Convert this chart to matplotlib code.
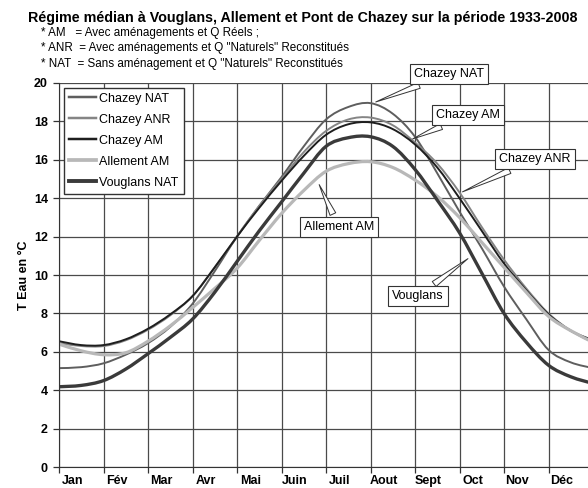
import matplotlib
matplotlib.use("Agg")
import matplotlib.pyplot as plt
from matplotlib.path import Path
from matplotlib.patches import PathPatch
from matplotlib.lines import Line2D
import numpy as np

plt.rcParams['font.family'] = ['Liberation Sans', 'DejaVu Sans']

# ---- data (half-month steps, in months from 1 Jan) ----
months_pos = [i * 0.5 for i in range(25)]
month_labels = ["Jan", "Fév", "Mar", "Avr", "Mai", "Juin", "Juil", "Aout", "Sept", "Oct", "Nov", "Déc"]

chazey_nat = [5.15, 5.2, 5.4, 5.85, 6.45, 7.3, 8.5, 10.2, 12.0, 13.6, 15.1, 16.7, 18.1,
              18.75, 18.95, 18.4, 17.2, 15.3, 13.3, 11.4, 9.4, 7.7, 6.1, 5.45, 5.15]
chazey_anr = [6.45, 6.3, 6.3, 6.6, 7.15, 7.9, 8.9, 10.4, 12.0, 13.6, 15.0, 16.4, 17.5,
              18.1, 18.2, 17.8, 16.9, 15.8, 14.3, 12.5, 10.8, 9.3, 8.0, 7.1, 6.5]
chazey_am = [6.55, 6.35, 6.35, 6.65, 7.2, 7.95, 8.9, 10.4, 12.0, 13.5, 14.9, 16.2, 17.3,
             17.85, 17.95, 17.6, 16.8, 15.6, 14.0, 12.3, 10.6, 9.2, 7.95, 7.1, 6.6]
allement_am = [6.4, 6.05, 5.85, 5.95, 6.55, 7.35, 8.3, 9.3, 10.35, 11.8, 13.2, 14.4, 15.4,
               15.8, 15.9, 15.6, 14.95, 14.1, 13.0, 11.7, 10.4, 9.1, 7.85, 7.1, 6.5]
vouglans_nat = [4.18, 4.25, 4.5, 5.1, 5.9, 6.75, 7.7, 9.1, 10.7, 12.3, 13.8, 15.3, 16.7,
                17.15, 17.2, 16.7, 15.5, 13.9, 12.2, 10.1, 8.0, 6.5, 5.3, 4.7, 4.35]

series = [
    ("Chazey NAT", chazey_nat, "#5e5e5e", 1.4),
    ("Chazey ANR", chazey_anr, "#858585", 1.4),
    ("Chazey AM", chazey_am, "#1e1e1e", 1.4),
    ("Allement AM", allement_am, "#b8b8b8", 2.3),
    ("Vouglans NAT", vouglans_nat, "#3a3a3a", 2.4),
]

callouts = [
    ("Chazey NAT", (8.76, 20.47), (7.06, 18.96)),
    ("Chazey AM", (9.19, 18.33), (7.89, 17.03)),
    ("Chazey ANR", (10.7, 16.04), (9.01, 14.27)),
    ("Allement AM", (6.29, 12.5), (5.82, 14.84)),
    ("Vouglans", (8.07, 8.9), (9.24, 10.94)),
]


def smooth_path(x, y):
    """Excel-like smoothed line: cubic Bezier through the data points."""
    x = np.asarray(x, float)
    y = np.asarray(y, float)
    n = len(x)
    verts = [(x[0], y[0])]
    codes = [Path.MOVETO]
    for i in range(n - 1):
        p0 = (x[i - 1], y[i - 1]) if i > 0 else (x[i], y[i])
        p1 = (x[i], y[i])
        p2 = (x[i + 1], y[i + 1])
        p3 = (x[i + 2], y[i + 2]) if i + 2 < n else (x[i + 1], y[i + 1])
        c1 = (p1[0] + (p2[0] - p0[0]) / 6, p1[1] + (p2[1] - p0[1]) / 6)
        c2 = (p2[0] - (p3[0] - p1[0]) / 6, p2[1] - (p3[1] - p1[1]) / 6)
        verts += [c1, c2, p2]
        codes += [Path.CURVE4] * 3
    return Path(verts, codes)


fig = plt.figure(figsize=(5.88, 4.88), dpi=100)
W, H = 588.0, 488.0
ax = fig.add_axes([59 / W, (H - 467) / H, 534 / W, 384 / H])

ax.set_xlim(0, 12)
ax.set_ylim(0, 20)

# grid
ax.set_xticks(range(13))
ax.set_yticks(range(0, 21, 2))
ax.grid(True, color="#4a4a4a", lw=0.9)
ax.set_axisbelow(True)
ax.set_xticklabels([])
ax.tick_params(axis="x", length=4, width=0.9, color="#333333", direction="out")
ax.tick_params(axis="y", length=4, width=0.9, color="#333333", direction="out",
               labelsize=9, pad=4)
for lab in ax.get_yticklabels():
    lab.set_fontweight("bold")
for i, lab in enumerate(month_labels):
    ax.text(i + 0.3, -0.74, lab, ha="center", va="center", fontsize=9, fontweight="bold",
            transform=ax.transData, clip_on=False)

for side in ["top", "right"]:
    ax.spines[side].set_visible(False)
ax.spines["left"].set_color("#333333")
ax.spines["bottom"].set_color("#333333")

handles = []
for name, vals, col, lw in series:
    patch = PathPatch(smooth_path(months_pos, vals), fill=False, edgecolor=col, lw=lw,
                      capstyle="round", joinstyle="round")
    ax.add_patch(patch)
    handles.append(Line2D([], [], color=col, lw=lw + 0.4, label=name))

leg = ax.legend(handles=handles, loc="upper left", bbox_to_anchor=(0.009, 0.988),
                borderaxespad=0, fancybox=False, framealpha=1, edgecolor="#333333",
                fontsize=9.0, handlelength=2.2, handletextpad=0.25, labelspacing=0.72,
                borderpad=0.4)
leg.get_frame().set_linewidth(1.0)

for text, xyt, xy in callouts:
    ax.annotate(text, xy=xy, xytext=xyt, ha="center", va="center", fontsize=9,
                annotation_clip=False,
                bbox=dict(boxstyle="square,pad=0.32", fc="white", ec="#333333", lw=0.8),
                arrowprops=dict(arrowstyle="wedge,tail_width=0.5,shrink_factor=0.5",
                                fc="white", ec="#333333", lw=0.7))

ax.set_ylabel("T Eau en °C", fontsize=9, fontweight="bold", labelpad=3)

fig.text(28 / W, 1 - 18 / H, "Régime médian à Vouglans, Allement et Pont de Chazey sur la période 1933-2008",
         fontsize=10.3, fontweight="bold", ha="left", va="center")
subs = ["* AM   = Avec aménagements et Q Réels ;",
        "* ANR  = Avec aménagements et Q \"Naturels\" Reconstitués",
        "* NAT  = Sans aménagement et Q \"Naturels\" Reconstitués"]
for k, s in enumerate(subs):
    fig.text(41 / W, 1 - (33 + 15.5 * k) / H, s, fontsize=8.4, ha="left", va="center")

fig.savefig("out.png", dpi=100)
